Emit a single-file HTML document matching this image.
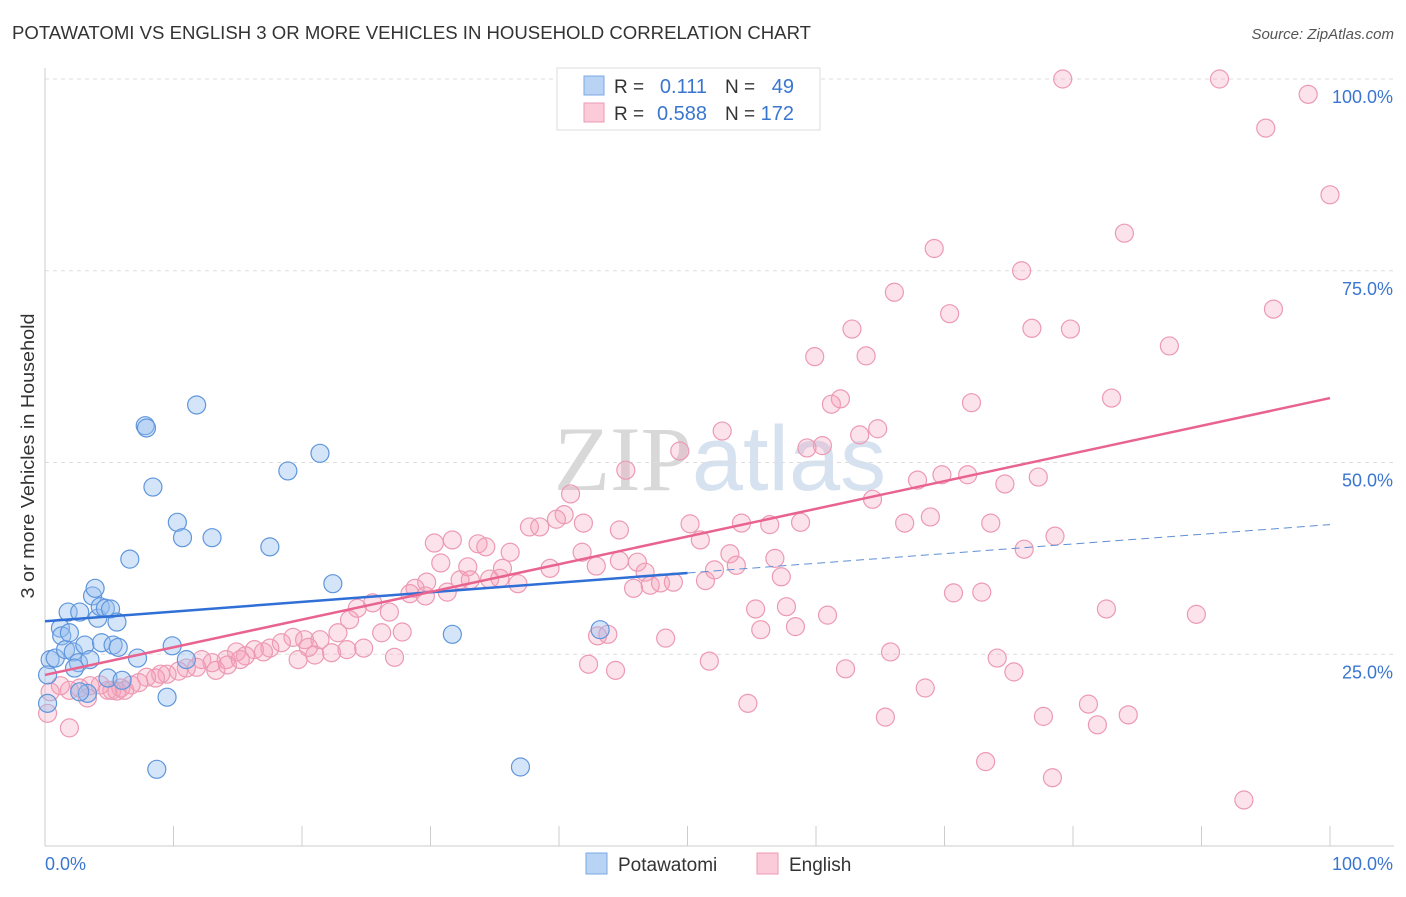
<!DOCTYPE html>
<html><head><meta charset="utf-8">
<style>
body{margin:0;background:#fff;font-family:"Liberation Sans",sans-serif;}
svg text{font-family:"Liberation Sans",sans-serif;}
</style></head>
<body>
<svg id="chart" width="1406" height="892" xmlns="http://www.w3.org/2000/svg">
<text x="12" y="39" font-size="18" fill="#333" textLength="799" lengthAdjust="spacingAndGlyphs">POTAWATOMI VS ENGLISH 3 OR MORE VEHICLES IN HOUSEHOLD CORRELATION CHART</text>
<text x="1394" y="39" font-size="15" fill="#555" text-anchor="end" font-style="italic">Source: ZipAtlas.com</text>
<text x="720" y="490" font-size="92" text-anchor="middle" fill="#e4e4e4"><tspan font-family="Liberation Serif" fill="#d8d8d8">ZIP</tspan><tspan fill="#d6e2f0">atlas</tspan></text>
<g id="grid"></g>
<g id="axes"></g>
<g id="pts"></g>
<g id="trends"></g>
<text transform="translate(34,456) rotate(-90)" font-size="18" fill="#333" text-anchor="middle" textLength="285" lengthAdjust="spacingAndGlyphs">3 or more Vehicles in Household</text>
<g>
<rect x="557" y="68" width="263" height="62" fill="#fff" stroke="#ddd"/>
<rect x="584" y="76" width="20" height="19" fill="#b8d3f3" stroke="#7aa9e6"/>
<text x="614" y="93" font-size="19" fill="#333">R =</text>
<text x="707" y="93" font-size="20" fill="#3a76d0" text-anchor="end">0.111</text>
<text x="725" y="93" font-size="19" fill="#333">N =</text>
<text x="794" y="93" font-size="20" fill="#3a76d0" text-anchor="end">49</text>
<rect x="584" y="103" width="20" height="19" fill="#fbcbd9" stroke="#ec9ab3"/>
<text x="614" y="120" font-size="19" fill="#333">R =</text>
<text x="707" y="120" font-size="20" fill="#3a76d0" text-anchor="end">0.588</text>
<text x="725" y="120" font-size="19" fill="#333">N =</text>
<text x="794" y="120" font-size="20" fill="#3a76d0" text-anchor="end">172</text>
</g>
<g>
<rect x="586" y="853" width="21" height="21" fill="#b8d3f3" stroke="#7aa9e6"/>
<text x="618" y="871" font-size="19" fill="#333">Potawatomi</text>
<rect x="757" y="853" width="21" height="21" fill="#fbcbd9" stroke="#ec9ab3"/>
<text x="789" y="871" font-size="19" fill="#333">English</text>
</g>
</svg>
<script>
const xTickLabels=["0.0%","100.0%"];
const yTicks=[25,50,75,100];
const yTickLabels=["25.0%","50.0%","75.0%","100.0%"];
const blueX=[0.4,0.2,0.2,0.8,1.2,1.3,1.6,1.8,1.9,2.2,2.6,2.7,3.1,3.5,3.7,3.9,4.1,4.3,4.4,4.7,5.1,5.3,5.6,5.7,4.9,6.0,6.6,7.2,7.8,7.9,8.4,8.7,9.5,9.9,10.3,10.7,11.0,11.8,13.0,17.5,18.9,21.4,22.4,31.7,37.0,43.2,3.3,2.7,2.3];
const blueY=[24.3,22.3,18.6,24.5,28.4,27.4,25.6,30.5,27.8,25.3,23.9,30.5,26.2,24.3,32.6,33.6,29.7,31.2,26.5,31.0,30.9,26.2,29.2,25.9,21.9,21.6,37.4,24.5,54.8,54.5,46.8,10.0,19.4,26.1,42.2,40.2,24.3,57.5,40.2,39.0,48.9,51.2,34.2,27.6,10.3,28.2,19.9,20.1,23.2];
const pinkX=[79.2,91.4,98.3,95.0,100,84.0,69.2,76.0,66.1,95.6,70.4,62.8,76.8,79.8,87.5,59.9,63.9,83.0,61.9,61.2,72.1,52.7,64.8,63.4,60.5,59.3,49.4,45.2,40.9,64.4,69.8,71.8,67.9,77.3,74.7,40.4,37.7,38.5,39.8,41.9,44.7,50.2,54.2,56.4,58.8,66.9,68.9,73.6,78.6,76.2,30.3,31.7,33.7,34.3,36.2,41.8,44.7,51.0,53.3,53.8,56.8,57.3,52.1,46.1,46.7,42.9,39.3,35.6,32.9,30.8,29.7,28.8,28.4,29.6,31.3,32.3,33.1,34.6,35.4,36.8,45.8,47.1,47.9,48.9,51.4,55.3,57.7,60.9,70.7,72.9,82.6,89.6,26.8,25.5,24.3,26.2,27.8,23.7,22.8,21.4,20.2,19.3,18.4,17.5,16.3,15.6,14.9,14.1,13.0,12.2,11.8,11.0,10.4,9.5,9.0,8.6,7.9,7.3,6.7,5.9,5.2,4.3,3.5,2.7,1.9,1.2,0.4,0.2,1.9,3.3,4.9,6.2,5.6,13.3,14.2,15.2,17.0,19.7,21.0,22.3,23.5,24.8,27.2,20.5,42.3,44.4,48.3,51.7,54.7,55.7,58.4,62.3,65.8,65.4,68.5,73.2,74.1,75.4,77.7,78.4,81.2,81.9,84.3,93.3,43.0,43.8];
const pinkY=[100.0,100.0,98.0,93.6,84.9,79.9,77.9,75.0,72.2,70.0,69.4,67.4,67.5,67.4,65.2,63.8,63.9,58.4,58.3,57.6,57.8,54.1,54.4,53.6,52.2,51.9,51.5,49.0,45.9,45.2,48.4,48.4,47.7,48.1,47.2,43.2,41.6,41.6,42.6,42.1,41.2,42.0,42.1,41.9,42.2,42.1,42.9,42.1,40.4,38.7,39.5,39.9,39.4,39.0,38.3,38.3,37.2,39.9,38.1,36.6,37.5,35.1,36.0,37.0,35.7,36.5,36.2,36.2,36.4,36.9,34.4,33.6,32.9,32.6,33.1,34.7,34.7,34.8,34.9,34.2,33.6,34.0,34.3,34.4,34.6,30.9,31.2,30.1,33.0,33.1,30.9,30.2,30.5,31.7,31.0,27.8,27.9,29.5,27.8,26.9,26.9,27.2,26.5,25.8,25.6,24.8,25.3,24.3,23.9,24.3,23.3,23.2,22.8,22.4,22.4,21.9,22.0,21.3,21.0,20.6,20.3,21.0,20.9,20.6,20.3,20.9,20.1,17.3,15.4,19.3,20.3,20.3,20.2,22.9,23.6,24.3,25.3,24.3,24.9,25.2,25.6,25.8,24.6,25.9,23.7,22.9,27.1,24.1,18.6,28.2,28.6,23.1,25.3,16.8,20.6,11.0,24.5,22.7,16.9,8.9,18.5,15.8,17.1,6.0,27.4,27.6];
const blueTrend=[29.3,41.9];
const pinkTrend=[22.3,58.4];

const NS="http://www.w3.org/2000/svg";
const X0=45,X1=1330,Y0=846,Y100=79;
function sx(v){return X0+(X1-X0)*v/100;}
function sy(v){return Y0-(Y0-Y100)*v/100;}
function mk(tag,attrs,parent){const e=document.createElementNS(NS,tag);for(const k in attrs)e.setAttribute(k,attrs[k]);parent.appendChild(e);return e;}
const grid=document.getElementById('grid'),axes=document.getElementById('axes');
yTicks.forEach((t,i)=>{
  const l=mk('line',{x1:X0,x2:1394,y1:sy(t),y2:sy(t),stroke:'#ddd','stroke-dasharray':'4,4'},grid);
  
  
  const tx=mk('text',{x:1393,y:sy(t)+24,'font-size':18,fill:'#3a76d0','text-anchor':'end'},axes);
  tx.textContent=yTickLabels[i];
  
  
});
const yax=mk('line',{x1:X0,x2:X0,y1:68,y2:846,stroke:'#ccc'},axes);


const xax=mk('line',{x1:X0,x2:1394,y1:846,y2:846,stroke:'#ccc'},axes);


for(let i=0;i<=10;i++){
  const t=mk('line',{x1:sx(i*10),x2:sx(i*10),y1:826,y2:846,stroke:'#ccc'},axes);
  
  
}
const xl0=mk('text',{x:45,y:870,'font-size':18,fill:'#3a76d0'},axes);xl0.textContent=xTickLabels[0];


const xl1=mk('text',{x:1393,y:870,'font-size':18,fill:'#3a76d0','text-anchor':'end'},axes);xl1.textContent=xTickLabels[1];


const pts=document.getElementById('pts');
pinkX.forEach((x,i)=>{
  const c=mk('circle',{cx:sx(x),cy:sy(pinkY[i]),r:9,fill:'rgba(244,160,186,0.3)',stroke:'#ec9ab3','stroke-width':1.2},pts);
  
  
});
blueX.forEach((x,i)=>{
  const c=mk('circle',{cx:sx(x),cy:sy(blueY[i]),r:9,fill:'rgba(150,190,240,0.4)',stroke:'#5f96dc','stroke-width':1.2},pts);
  
  
});
const tr=document.getElementById('trends');
const bm=blueTrend[0]+(blueTrend[1]-blueTrend[0])*0.5;
const b1=mk('line',{x1:sx(0),y1:sy(blueTrend[0]),x2:sx(50),y2:sy(bm),stroke:'#2f6fd6','stroke-width':2.5},tr);


const b2=mk('line',{x1:sx(50),y1:sy(bm),x2:sx(100),y2:sy(blueTrend[1]),stroke:'#5f8fd6','stroke-width':1,'stroke-dasharray':'8,5'},tr);


const p1=mk('line',{x1:sx(0),y1:sy(pinkTrend[0]),x2:sx(100),y2:sy(pinkTrend[1]),stroke:'#e8638f','stroke-width':2.5},tr);


</script>
</body></html>
